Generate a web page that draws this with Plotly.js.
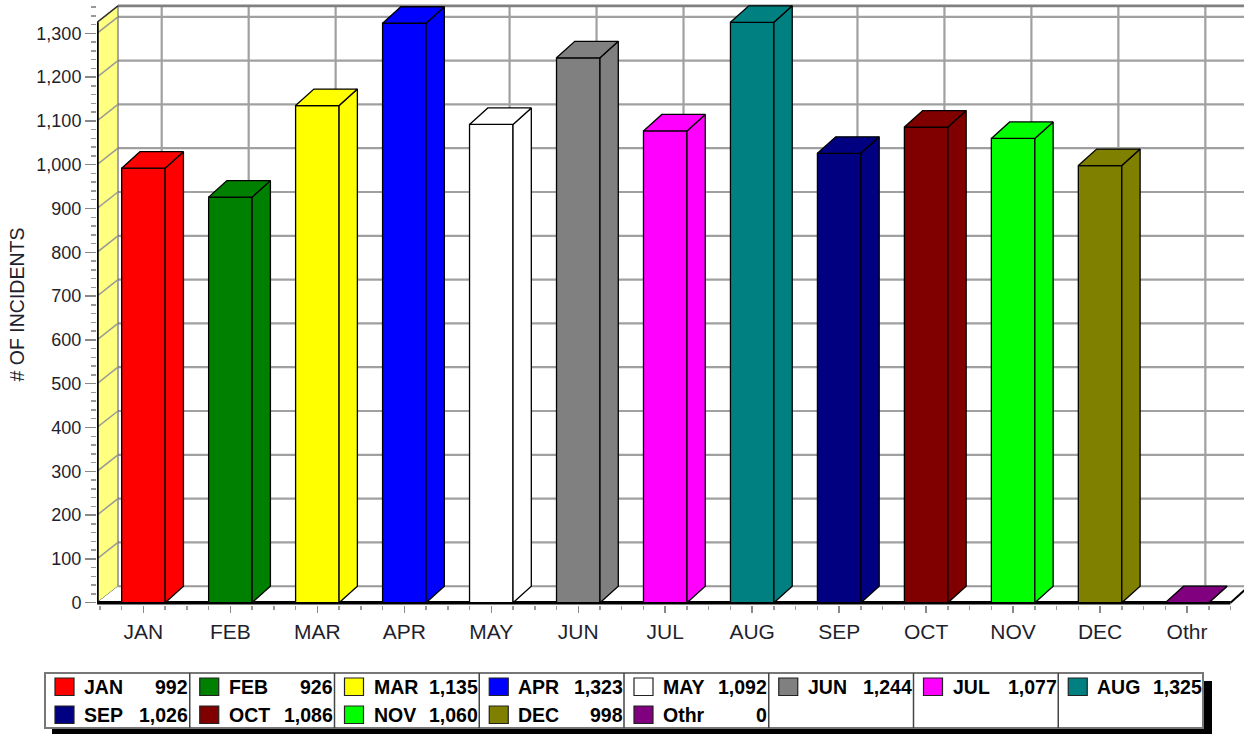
<!DOCTYPE html>
<html>
<head>
<meta charset="utf-8">
<script src="https://cdn.plot.ly/plotly-3.0.1.min.js"></script>
<style>html,body{margin:0;padding:0;background:#fff;}#chart{width:1244px;height:734px;}</style>
</head>
<body>
<div id="chart"></div>
<script>
// ---------------- data ----------------
const categories = ['JAN','FEB','MAR','APR','MAY','JUN','JUL','AUG','SEP','OCT','NOV','DEC','Othr'];
const incidents  = [992, 926, 1135, 1323, 1092, 1244, 1077, 1325, 1026, 1086, 1060, 998, 0];
const barColors  = ['#ff0000','#008000','#ffff00','#0000ff','#ffffff','#808080','#ff00ff','#008080','#000080','#800000','#00ff00','#808000','#800080'];
const yTickValues = [0,100,200,300,400,500,600,700,800,900,1000,1100,1200,1300];
const yAxisTitle = '# OF INCIDENTS';

// ---------------- geometry ----------------
const W = 1244, H = 734;
const M = {l: 97, r: 0, t: 4, b: 129};
const PX_PER_CAT = 86.97, CAT0_PX = 143.4;
const PX_PER_VAL = 0.438, VAL0_PX = 602.7;
const xRange = [(M.l - CAT0_PX) / PX_PER_CAT, (W - M.r - CAT0_PX) / PX_PER_CAT];
const yRange = [(VAL0_PX - (H - M.b)) / PX_PER_VAL, (VAL0_PX - M.t) / PX_PER_VAL];
const DX = 18.3 / PX_PER_CAT;      // depth offset (category units)
const DY = 16.5 / PX_PER_VAL;      // depth offset (value units)
const BAR_W = 0.5;
const WALL_DX = 21 / PX_PER_CAT;
const WALL_TOP = 1325;
const xL = xRange[0];
const xBack = xL + WALL_DX;
const FLOOR_END = 12.5;
const BACK_TOP = WALL_TOP + DY;

const GRID = '#a0a0a0';
const FONT = '"Liberation Sans", Arial, sans-serif';

function seg(x0, y0, x1, y1, color, width, layer) {
  return {type: 'line', xref: 'x', yref: 'y', x0, y0, x1, y1, layer: layer || 'below',
          line: {color, width}};
}
function poly(pts, fill, lineColor, lineWidth, layer) {
  const p = 'M ' + pts.map(q => q[0] + ',' + q[1]).join(' L ') + ' Z';
  return {type: 'path', xref: 'x', yref: 'y', path: p, fillcolor: fill, layer: layer || 'below',
          line: {color: lineColor, width: lineWidth}};
}

const shapes = [];
// back wall
shapes.push(poly([[xBack, DY], [xRange[1] + 1, DY], [xRange[1] + 1, BACK_TOP], [xBack, BACK_TOP]], '#ffffff', 'rgba(0,0,0,0)', 0));
// back-wall horizontal grid
yTickValues.forEach(v => { if (v > 0) shapes.push(seg(xBack, v + DY, xRange[1] + 1, v + DY, GRID, 2.2)); });
// back-wall vertical grid
categories.forEach((c, i) => shapes.push(seg(i + DX, DY, i + DX, BACK_TOP, GRID, 2.2)));
// top border of back wall
shapes.push(seg(xBack, BACK_TOP, xRange[1] + 1, BACK_TOP, '#808080', 2.8));
// left wall (yellow)
shapes.push(poly([[xL, 0], [xL, WALL_TOP], [xBack, BACK_TOP], [xBack, DY]], '#ffff80', '#555555', 1));
yTickValues.forEach(v => { if (v > 0) shapes.push(seg(xL, v, xBack, v + DY, '#999999', 1.5)); });
shapes.push(seg(xL, WALL_TOP, xBack, BACK_TOP, '#333333', 1.5));
// floor
shapes.push(poly([[xL, 0], [FLOOR_END, 0], [FLOOR_END + DX, DY], [xBack, DY]], '#ffffff', 'rgba(0,0,0,0)', 0));
shapes.push(seg(xBack, DY, FLOOR_END + DX, DY, '#999999', 2));
shapes.push(seg(FLOOR_END, 0, FLOOR_END + DX, DY, '#000000', 2));
shapes.push(seg(xL, 0, FLOOR_END, 0, '#000000', 3.5));
// y axis line
shapes.push(seg(xL, 0, xL, WALL_TOP, '#000000', 3.5));

// ---------------- traces ----------------
const traces = [];
traces.push({
  type: 'bar', x: categories.map((c, i) => i), y: incidents, width: BAR_W,
  marker: {color: barColors, line: {color: '#000000', width: 1.3}},
  hoverinfo: 'skip', showlegend: false
});
incidents.forEach((v, i) => {
  const a = i - BAR_W / 2, b = i + BAR_W / 2;
  // side face
  traces.push({type: 'scatter', mode: 'lines', fill: 'toself', fillcolor: barColors[i],
    x: [b, b, b + DX, b + DX, b], y: [0, v, v + DY, DY, 0],
    line: {color: '#000000', width: 1.3}, hoverinfo: 'skip', showlegend: false});
  // top face
  traces.push({type: 'scatter', mode: 'lines', fill: 'toself', fillcolor: barColors[i],
    x: [a, b, b + DX, a + DX, a], y: [v, v, v + DY, v + DY, v],
    line: {color: '#000000', width: 1.3}, hoverinfo: 'skip', showlegend: false});
});

// ---------------- legend (custom box) ----------------
const plotW = W - M.l - M.r, plotH = H - M.t - M.b;
const px2x = px => (px - M.l) / plotW;
const px2y = py => (H - M.b - py) / plotH;
const LEG_L = 45, LEG_T = 673, LEG_B = 728, COL_W = 144.75, NCOL = 8;
const LEG_R = LEG_L + NCOL * COL_W;
const ROW_Y = [687, 715];
function pbox(x0, y0, x1, y1, fill, lc, lw) {
  return {type: 'rect', xref: 'paper', yref: 'paper', x0: px2x(x0), x1: px2x(x1), y0: px2y(y1), y1: px2y(y0),
          fillcolor: fill, line: {color: lc, width: lw}, layer: 'above'};
}
shapes.push(pbox(LEG_L + 7, LEG_T + 8, LEG_R + 9, H + 2, '#000000', '#000000', 0));
shapes.push(pbox(LEG_L, LEG_T, LEG_R, LEG_B, '#ffffff', '#777777', 2));
for (let c = 1; c < NCOL; c++) {
  const x = LEG_L + c * COL_W;
  shapes.push({type: 'line', xref: 'paper', yref: 'paper', x0: px2x(x), x1: px2x(x), y0: px2y(LEG_B), y1: px2y(LEG_T),
               line: {color: '#444444', width: 1.5}, layer: 'above'});
}
const annotations = [];
const fmt = v => String(v).replace(/\B(?=(\d{3})+(?!\d))/g, ',');
categories.forEach((cat, i) => {
  const r = Math.floor(i / NCOL), c = i % NCOL;
  const cl = LEG_L + c * COL_W, cy = ROW_Y[r];
  shapes.push(pbox(cl + 10, cy - 9, cl + 29, cy + 8.5, barColors[i], '#222222', 1.2));
  annotations.push({xref: 'paper', yref: 'paper', x: px2x(cl + 37), y: px2y(cy), xanchor: 'left', yanchor: 'middle',
    text: cat, showarrow: false, font: {family: FONT, size: 19.5, color: '#000000', weight: 700}});
  annotations.push({xref: 'paper', yref: 'paper', x: px2x(cl + COL_W + 0.5), y: px2y(cy), xanchor: 'right', yanchor: 'middle',
    text: fmt(incidents[i]), showarrow: false, font: {family: FONT, size: 19.5, color: '#000000', weight: 700}});
});

const layout = {
  width: W, height: H,
  margin: M,
  paper_bgcolor: '#ffffff', plot_bgcolor: '#ffffff',
  showlegend: false,
  font: {family: FONT},
  xaxis: {
    range: xRange, fixedrange: true, showgrid: false, zeroline: false, showline: false,
    tickmode: 'array', tickvals: categories.map((c, i) => i), ticktext: categories,
    ticks: 'outside', ticklen: 7, tickwidth: 1.5, tickcolor: '#888888',
    tickfont: {family: FONT, size: 21, color: '#1f1f2e'}, ticklabelstandoff: 1,
    minor: {dtick: 0.25, tick0: 0, ticks: 'outside', ticklen: 4, tickwidth: 1.5, tickcolor: '#999999', showgrid: false}
  },
  yaxis: {
    range: yRange, fixedrange: true, showgrid: false, zeroline: false, showline: false,
    tickmode: 'array', tickvals: yTickValues, tickformat: ',d',
    ticks: 'outside', ticklen: 11, tickwidth: 1.5, tickcolor: '#888888',
    tickfont: {family: FONT, size: 18, color: '#1f1f2e'},
    minor: {dtick: 20, tick0: 0, ticks: 'outside', ticklen: 5, tickwidth: 1.5, tickcolor: '#999999', showgrid: false},
    title: {text: yAxisTitle, standoff: 6, font: {family: FONT, size: 19.5, color: '#1f1f2e'}},
    automargin: false
  },
  shapes, annotations,
  bargap: 0
};
Plotly.newPlot('chart', traces, layout, {displayModeBar: false, staticPlot: true});
</script>
</body>
</html>
